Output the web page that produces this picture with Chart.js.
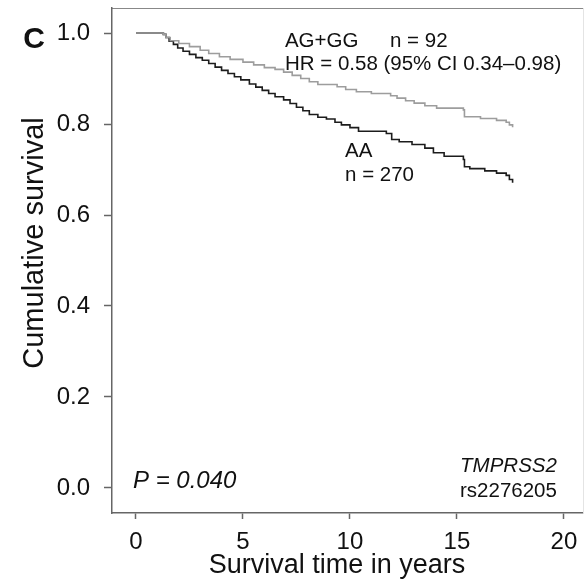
<!DOCTYPE html>
<html><head><meta charset="utf-8">
<script src="https://cdn.jsdelivr.net/npm/chart.js@4/dist/chart.umd.min.js"></script>
<style>html,body{margin:0;padding:0;background:#fff}#wrap{width:585px;height:582px}</style>
</head><body><div id="wrap"><canvas id="c" width="585" height="582"></canvas></div>
<script>
// Kaplan-Meier estimates (years, cumulative survival)
const timesAA = [0,1.28,1.4,1.55,1.75,1.95,2.2,2.5,2.8,3.1,3.4,3.7,4.0,4.3,4.6,4.9,5.3,5.6,5.9,6.2,6.5,6.9,7.2,7.5,7.8,8.1,8.5,8.9,9.3,9.6,10.0,10.4,11.7,11.95,12.3,12.9,13.5,13.9,14.4,15.3,15.35,15.6,16.3,16.85,17.3,17.45,17.6];
const survAA  = [1,0.997,0.99,0.982,0.975,0.967,0.96,0.953,0.946,0.94,0.933,0.925,0.918,0.911,0.904,0.897,0.888,0.881,0.874,0.867,0.86,0.853,0.845,0.837,0.829,0.821,0.815,0.811,0.804,0.798,0.792,0.784,0.779,0.766,0.761,0.755,0.747,0.737,0.729,0.722,0.706,0.702,0.697,0.692,0.687,0.678,0.671];
const timesAGGG = [0,1.28,1.4,1.6,2.0,2.5,3.0,3.4,3.9,4.4,5.0,5.5,6.0,6.5,6.9,7.3,7.7,8.1,8.5,9.4,9.8,10.3,11.0,11.9,12.2,12.6,13.0,13.5,14.05,15.3,15.35,16.1,16.85,17.3,17.45,17.6];
const survAGGG  = [1,0.997,0.99,0.983,0.977,0.97,0.962,0.955,0.948,0.942,0.936,0.93,0.924,0.92,0.914,0.907,0.9,0.893,0.887,0.882,0.876,0.871,0.867,0.862,0.857,0.851,0.846,0.84,0.835,0.831,0.816,0.812,0.808,0.804,0.798,0.793];
const seriesNames = ['AG+GG','AA'];
const xTicks = [0,5,10,15,20];
const yTicks = [0,0.2,0.4,0.6,0.8,1.0];
const xTitle = 'Survival time in years';
const yTitle = 'Cumulative survival';
const panelLabel = 'C';
const noteTexts = ['AG+GG','n = 92','HR = 0.58 (95% CI 0.34\u20130.98)','AA','n = 270','P = 0.040','TMPRSS2','rs2276205'];
const noteX = [6.96,11.87,6.96,9.77,9.77,-0.14,19.67,19.67];
const noteY = [0.969,0.969,0.918,0.727,0.675,0.0,0.035,-0.02];

const FONT = '"Liberation Sans", Arial, Helvetica, sans-serif';
const noteStyle = [
  {size:20.5,style:'normal',align:'left'},
  {size:20.5,style:'normal',align:'left'},
  {size:20.5,style:'normal',align:'left'},
  {size:20.5,style:'normal',align:'left'},
  {size:20.5,style:'normal',align:'left'},
  {size:24,style:'italic',align:'left'},
  {size:20.5,style:'italic',align:'right'},
  {size:20.5,style:'normal',align:'right'}
];

const notesPlugin = {
  id: 'notes',
  afterDatasetsDraw(chart) {
    const {ctx, scales} = chart;
    ctx.save();
    ctx.fillStyle = '#111';
    ctx.textBaseline = 'alphabetic';
    noteTexts.forEach((t, i) => {
      const s = noteStyle[i];
      ctx.font = s.style + ' ' + s.size + 'px ' + FONT;
      ctx.textAlign = s.align;
      ctx.fillText(t, scales.x.getPixelForValue(noteX[i]), scales.y.getPixelForValue(noteY[i]));
    });
    // panel letter
    ctx.font = 'bold 30px ' + FONT;
    ctx.textAlign = 'center';
    ctx.fillText(panelLabel, 34, 48);
    // axis titles
    ctx.font = '27px ' + FONT;
    ctx.textAlign = 'center';
    ctx.fillText(xTitle, 337, 573);
    ctx.save();
    ctx.translate(43, 243);
    ctx.rotate(-Math.PI / 2);
    ctx.font = '29px ' + FONT;
    ctx.fillText(yTitle, 0, 0);
    ctx.restore();
    ctx.restore();
  }
};

new Chart(document.getElementById('c'), {
  type: 'line',
  data: {
    datasets: [
      {label: seriesNames[0], data: timesAGGG.map((t,i)=>({x:t,y:survAGGG[i]})), borderColor:'#9d9d9d', borderWidth:1.6, stepped:'before', pointRadius:0, fill:false},
      {label: seriesNames[1], data: timesAA.map((t,i)=>({x:t,y:survAA[i]})), borderColor:'#1c1c1c', borderWidth:1.6, stepped:'before', pointRadius:0, fill:false}
    ]
  },
  options: {
    responsive:false, animation:false, devicePixelRatio:1,
    layout:{padding:{top:8,right:0,left:0,bottom:0}},
    plugins:{legend:{display:false}, tooltip:{enabled:false}},
    scales:{
      x:{type:'linear', position:'bottom', min:-1.12, max:20.89,
        afterBuildTicks:s=>{s.ticks = xTicks.map(v=>({value:v}));},
        ticks:{font:{family:FONT,size:24}, color:'#111', padding:9, maxRotation:0, autoSkip:false},
        grid:{drawOnChartArea:false, drawTicks:true, tickLength:6, color:'#666', tickWidth:1.5},
        border:{color:'#666', width:1.5},
        title:{display:false, text:xTitle},
        afterFit:s=>{s.height = 69; s.paddingLeft = 0; s.paddingRight = 0;}
      },
      x2:{type:'linear', position:'top', min:-1.12, max:20.89,
        ticks:{display:false}, grid:{drawOnChartArea:false, drawTicks:false},
        border:{color:'#888', width:1}, afterFit:s=>{s.height = 0; s.paddingLeft = 0; s.paddingRight = 0;}
      },
      y:{type:'linear', position:'left', min:-0.055, max:1.055,
        afterBuildTicks:s=>{s.ticks = yTicks.map(v=>({value:v}));},
        ticks:{font:{family:FONT,size:24}, color:'#111', padding:14, callback:v=>v.toFixed(1)},
        grid:{drawOnChartArea:false, drawTicks:true, tickLength:8, color:'#666', tickWidth:1.5},
        border:{color:'#666', width:1.5},
        title:{display:false, text:yTitle},
        afterFit:s=>{s.width = 112; s.paddingTop = 0; s.paddingBottom = 0;}
      },
      y2:{type:'linear', position:'right', min:-0.055, max:1.055,
        ticks:{display:false}, grid:{drawOnChartArea:false, drawTicks:false},
        border:{color:'#e4e4e4', width:1}, afterFit:s=>{s.width = 2; s.paddingTop = 0; s.paddingBottom = 0;}
      }
    }
  },
  plugins:[notesPlugin]
});
</script>
</body></html>
